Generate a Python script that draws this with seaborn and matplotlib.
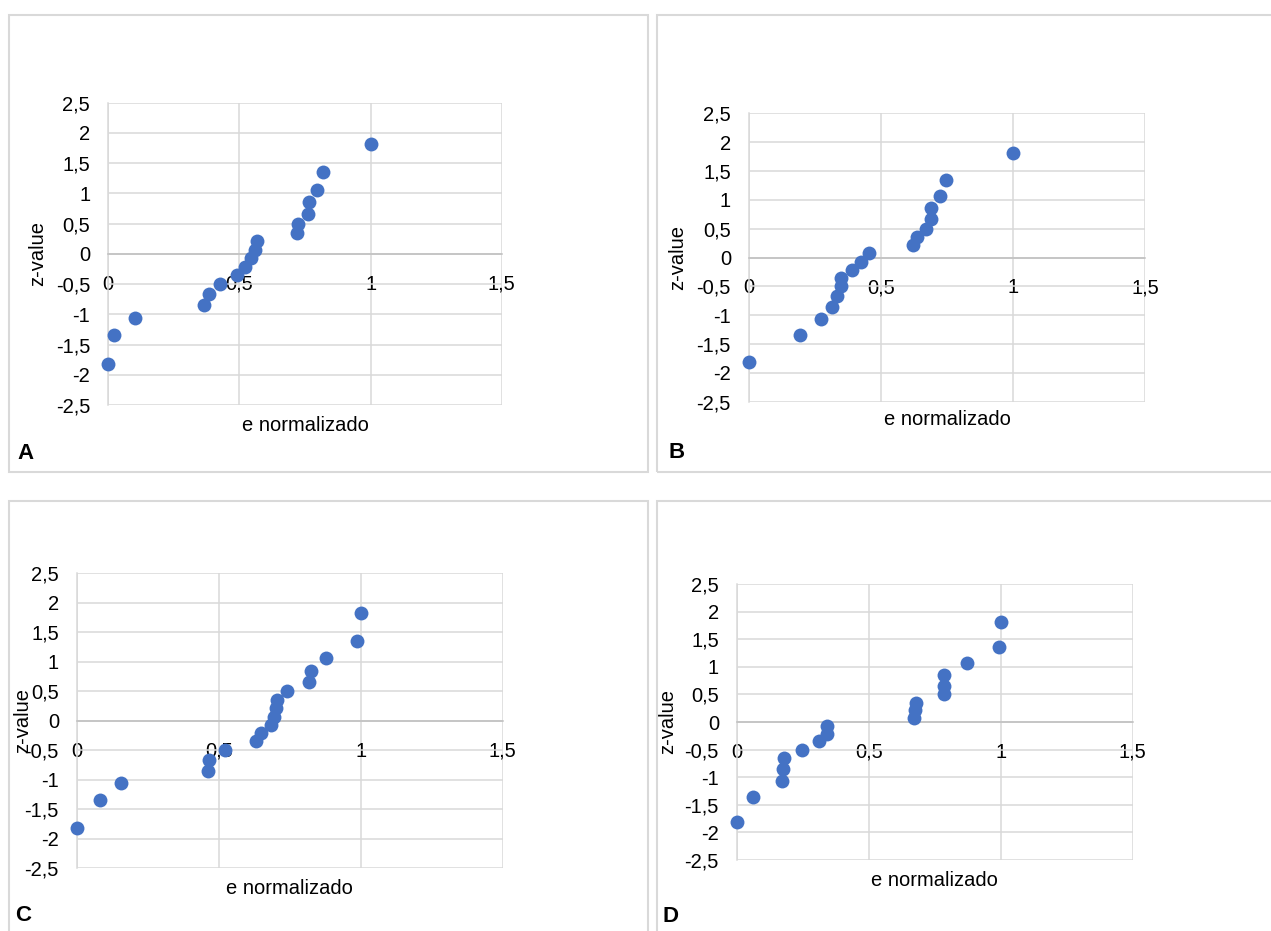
import numpy as np
import pandas as pd
import matplotlib
matplotlib.use("Agg")
import matplotlib.pyplot as plt
from matplotlib.patches import Rectangle
import seaborn as sns

# ------------------------------------------------------------------
# Données
# ------------------------------------------------------------------
z_value = [-1.82, -1.35, -1.06, -0.85, -0.66, -0.50, -0.35, -0.21, -0.07,
           0.07, 0.21, 0.35, 0.50, 0.66, 0.85, 1.06, 1.35, 1.82]

e_norm_a = [0.000, 0.023, 0.103, 0.363, 0.383, 0.426, 0.490, 0.520, 0.543,
            0.559, 0.567, 0.721, 0.724, 0.762, 0.766, 0.797, 0.817, 1.000]
e_norm_b = [0.000, 0.195, 0.273, 0.316, 0.335, 0.349, 0.350, 0.390, 0.424,
            0.454, 0.623, 0.637, 0.671, 0.690, 0.691, 0.725, 0.746, 1.000]
e_norm_c = [0.000, 0.081, 0.154, 0.462, 0.465, 0.521, 0.631, 0.648, 0.685,
            0.695, 0.702, 0.705, 0.739, 0.819, 0.825, 0.877, 0.985, 1.000]
e_norm_d = [0.000, 0.062, 0.171, 0.175, 0.177, 0.248, 0.311, 0.340, 0.342,
            0.671, 0.673, 0.680, 0.785, 0.785, 0.786, 0.873, 0.995, 1.000]

paineis = ["A", "B", "C", "D"]

x_ticks = [0, 0.5, 1, 1.5]
x_labels = ["0", "0,5", "1", "1,5"]
y_ticks = [-2.5, -2, -1.5, -1, -0.5, 0, 0.5, 1, 1.5, 2, 2.5]
y_labels = ["-2,5", "-2", "-1,5", "-1", "-0,5", "0", "0,5", "1", "1,5", "2", "2,5"]

# ------------------------------------------------------------------
# Mise en page (pixels -> fractions de la figure)
# ------------------------------------------------------------------
W, H = 1271, 931
axes_px = {   # gauche, droite, haut, bas
    "A": (108.3, 501.7, 102.7, 405.0),
    "B": (749.0, 1145.0, 113.3, 401.7),
    "C": (77.0, 502.7, 573.3, 868.3),
    "D": (737.0, 1132.7, 584.0, 860.0),
}
boxes_px = {
    "A": (9, 648, 14.5, 471.7),
    "B": (656.7, 1290, 14.5, 471.7),
    "C": (9, 648, 500.7, 950),
    "D": (656.7, 1290, 500.7, 950),
}
ylabel_x = {"A": -0.156, "B": -0.157, "C": -0.106, "D": -0.151}
xlabel_y = {"A": -0.036, "B": -0.029, "C": -0.036, "D": -0.04}
letter_px = {"A": (17, 459), "B": (669, 458), "C": (15, 921), "D": (663, 922)}

df = pd.DataFrame({
    "z": z_value * 4,
    "e": e_norm_a + e_norm_b + e_norm_c + e_norm_d,
    "painel": np.repeat(paineis, len(z_value)),
})

sns.set_theme(style="white")
plt.rcParams["font.family"] = ["Liberation Sans", "DejaVu Sans"]

fig = plt.figure(figsize=(W / 100, H / 100), dpi=100)

GRID = "#D9D9D9"
BLUE = "#4472C4"
FS = 14.5

for p in paineis:
    x0, x1, y0, y1 = boxes_px[p]
    fig.patches.append(Rectangle((x0 / W, 1 - y1 / H), (x1 - x0) / W, (y1 - y0) / H,
                                 transform=fig.transFigure, fill=False,
                                 edgecolor=GRID, linewidth=1.5, zorder=0))

    l, r, t, b = axes_px[p]
    ax = fig.add_axes([l / W, 1 - b / H, (r - l) / W, (b - t) / H])
    sns.scatterplot(data=df[df["painel"] == p], x="e", y="z", ax=ax,
                    color=BLUE, s=100, linewidth=0, zorder=5, clip_on=False)

    ax.set_xlim(0, 1.5)
    ax.set_ylim(-2.5, 2.5)
    ax.set_xticks(x_ticks)
    ax.set_xticklabels(x_labels)
    ax.set_yticks(y_ticks)
    ax.set_yticklabels(y_labels)
    ax.grid(True, color=GRID, linewidth=1.1)
    ax.set_axisbelow(True)

    for s in ["top", "right"]:
        ax.spines[s].set_visible(False)
    ax.spines["bottom"].set_position(("data", 0))
    ax.spines["bottom"].set_color("#BFBFBF")
    ax.spines["bottom"].set_linewidth(1.1)
    ax.spines["left"].set_color(GRID)
    ax.spines["left"].set_linewidth(1.1)

    ax.tick_params(axis="x", length=0, pad=15, labelsize=FS, colors="black")
    ax.tick_params(axis="y", length=0, pad=13, labelsize=FS, colors="black")

    ax.set_xlabel("e normalizado", fontsize=FS, color="black")
    ax.set_ylabel("z-value", fontsize=FS, color="black")
    ax.xaxis.set_label_coords(0.5, xlabel_y[p])
    ax.yaxis.set_label_coords(ylabel_x[p], 0.5)

    lx, ly = letter_px[p]
    fig.text(lx / W, 1 - ly / H, p, fontsize=16, fontweight="bold",
             ha="left", va="baseline", color="black")

fig.savefig("out.png", dpi=100)
